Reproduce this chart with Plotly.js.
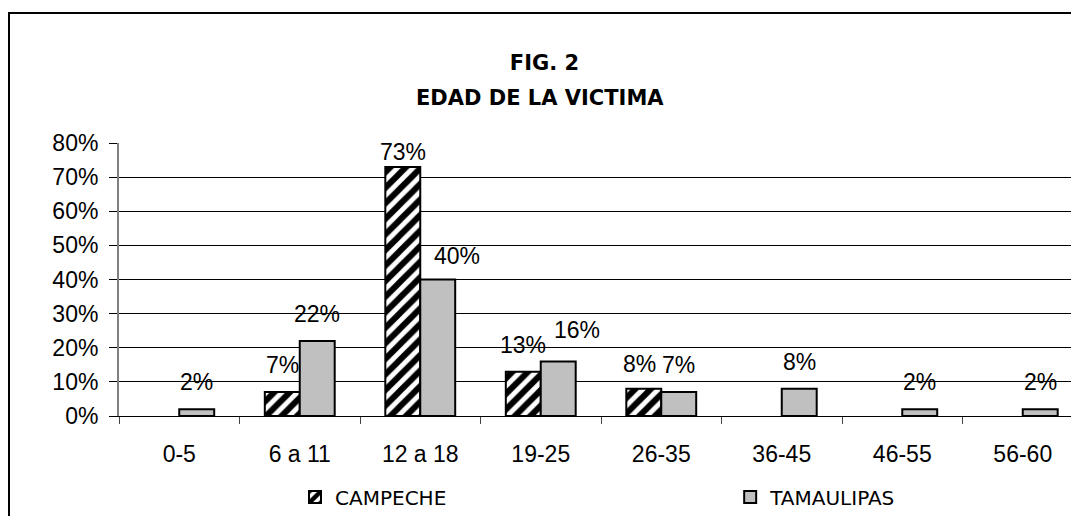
<!DOCTYPE html>
<html><head><meta charset="utf-8">
<script src="https://cdn.plot.ly/plotly-3.0.1.min.js"></script>
<style>
html,body{margin:0;padding:0;overflow:hidden;background:#fff;width:1071px;height:516px}
#chart{position:absolute;left:0;top:0}
#frame{position:absolute;left:8px;top:12px;width:2000px;height:1000px;border-left:2px solid #000;border-top:2px solid #000;pointer-events:none;z-index:10}
</style></head><body>
<div id="chart"></div><div id="frame"></div>
<script>
// ---- data ----
const categories = ['0-5','6 a 11','12 a 18','19-25','26-35','36-45','46-55','56-60'];
const campeche   = [null, 0.07, 0.73, 0.13, 0.08, null, null, null];
const tamaulipas = [0.02, 0.22, 0.40, 0.16, 0.07, 0.08, 0.02, 0.02];
const seriesNames = ['CAMPECHE', 'TAMAULIPAS'];
const titleLines = ['FIG. 2', 'EDAD DE LA VICTIMA'];
const yTickVals = [0, 0.1, 0.2, 0.3, 0.4, 0.5, 0.6, 0.7, 0.8];

// ---- label nudges (px), keyed by series index and category ----
const labelNudge = {
  '0|12 a 18': {dx: 0, dy: -12},
  '1|12 a 18': {dx: 19, dy: -3},
  '1|19-25':   {dx: 19, dy: 4},
  '0|26-35':   {dx: -4, dy: -2}
};

const FONT_NUM = "'Liberation Sans', Arial, sans-serif";
const FONT_TXT = "'DejaVu Sans', sans-serif";
const bargap = 0.42;
const half = (1 - bargap) / 4; // center offset of each bar in a group of two

const traces = [
  {
    type: 'bar', name: seriesNames[0], x: categories, y: campeche, legend: 'legend',
    marker: {color: '#ffffff', line: {color: '#000', width: 2},
             pattern: {shape: '/', fgcolor: '#000', bgcolor: '#fff', size: 11, solidity: 0.55}},
    hoverinfo: 'skip'
  },
  {
    type: 'bar', name: seriesNames[1], x: categories, y: tamaulipas, legend: 'legend2',
    marker: {color: '#c0c0c0', line: {color: '#000', width: 2}},
    hoverinfo: 'skip'
  }
];

const annotations = [];
[campeche, tamaulipas].forEach((vals, s) => {
  vals.forEach((v, i) => {
    if (v === null || v === 0) return;
    const n = labelNudge[s + '|' + categories[i]] || {dx: 0, dy: 0};
    annotations.push({
      xref: 'x', yref: 'y', x: i + (s === 0 ? -half : half), y: v,
      text: Math.round(v * 100) + '%', showarrow: false,
      xanchor: 'center', yanchor: 'middle',
      xshift: n.dx, yshift: 27 + n.dy,
      font: {family: FONT_NUM, size: 23, color: '#000'}
    });
  });
});
annotations.push({
  xref: 'paper', yref: 'paper', x: 0.437, y: 1.165, showarrow: false,
  text: '<b>' + titleLines[1] + '</b>', xanchor: 'center', yanchor: 'middle',
  font: {family: FONT_TXT, size: 21, color: '#000'}
});

const legendCommon = {orientation: 'h', xanchor: 'left', y: -0.297, yanchor: 'middle',
  font: {family: FONT_TXT, size: 20, color: '#000'}, bgcolor: 'rgba(0,0,0,0)'};

const layout = {
  width: 1090, height: 516, autosize: false,
  margin: {l: 119, r: 7, t: 143, b: 100, pad: 0, autoexpand: false},
  paper_bgcolor: '#fff', plot_bgcolor: '#fff',
  title: {text: '<b>' + titleLines[0] + '</b>', x: 0.4995, xanchor: 'center', xref: 'container',
          y: 1 - 63 / 516, yanchor: 'middle', yref: 'container',
          font: {family: FONT_TXT, size: 21, color: '#000'}},
  barmode: 'group', bargap: bargap, bargroupgap: 0,
  showlegend: true,
  legend: Object.assign({}, legendCommon, {x: 0.1826}),
  legend2: Object.assign({}, legendCommon, {x: 0.634}),
  xaxis: {type: 'category', showline: true, linecolor: '#000', linewidth: 1,
          ticks: 'outside', tickson: 'boundaries', ticklen: 7, tickcolor: '#444', tickwidth: 1,
          ticklabelstandoff: 17, showgrid: false, zeroline: false,
          tickfont: {family: FONT_NUM, size: 23, color: '#000'}},
  yaxis: {range: [0, 0.8], tickvals: yTickVals, tickformat: '.0%',
          showline: true, linecolor: '#808080', linewidth: 2,
          ticks: 'outside', ticklen: 8, tickcolor: '#000', tickwidth: 1,
          ticklabelstandoff: 6, showgrid: true, gridcolor: '#000', gridwidth: 1, zeroline: false,
          tickfont: {family: FONT_NUM, size: 23, color: '#000'}},
  annotations: annotations
};

Plotly.newPlot('chart', traces, layout, {staticPlot: true, displayModeBar: false});
</script>
</body></html>
